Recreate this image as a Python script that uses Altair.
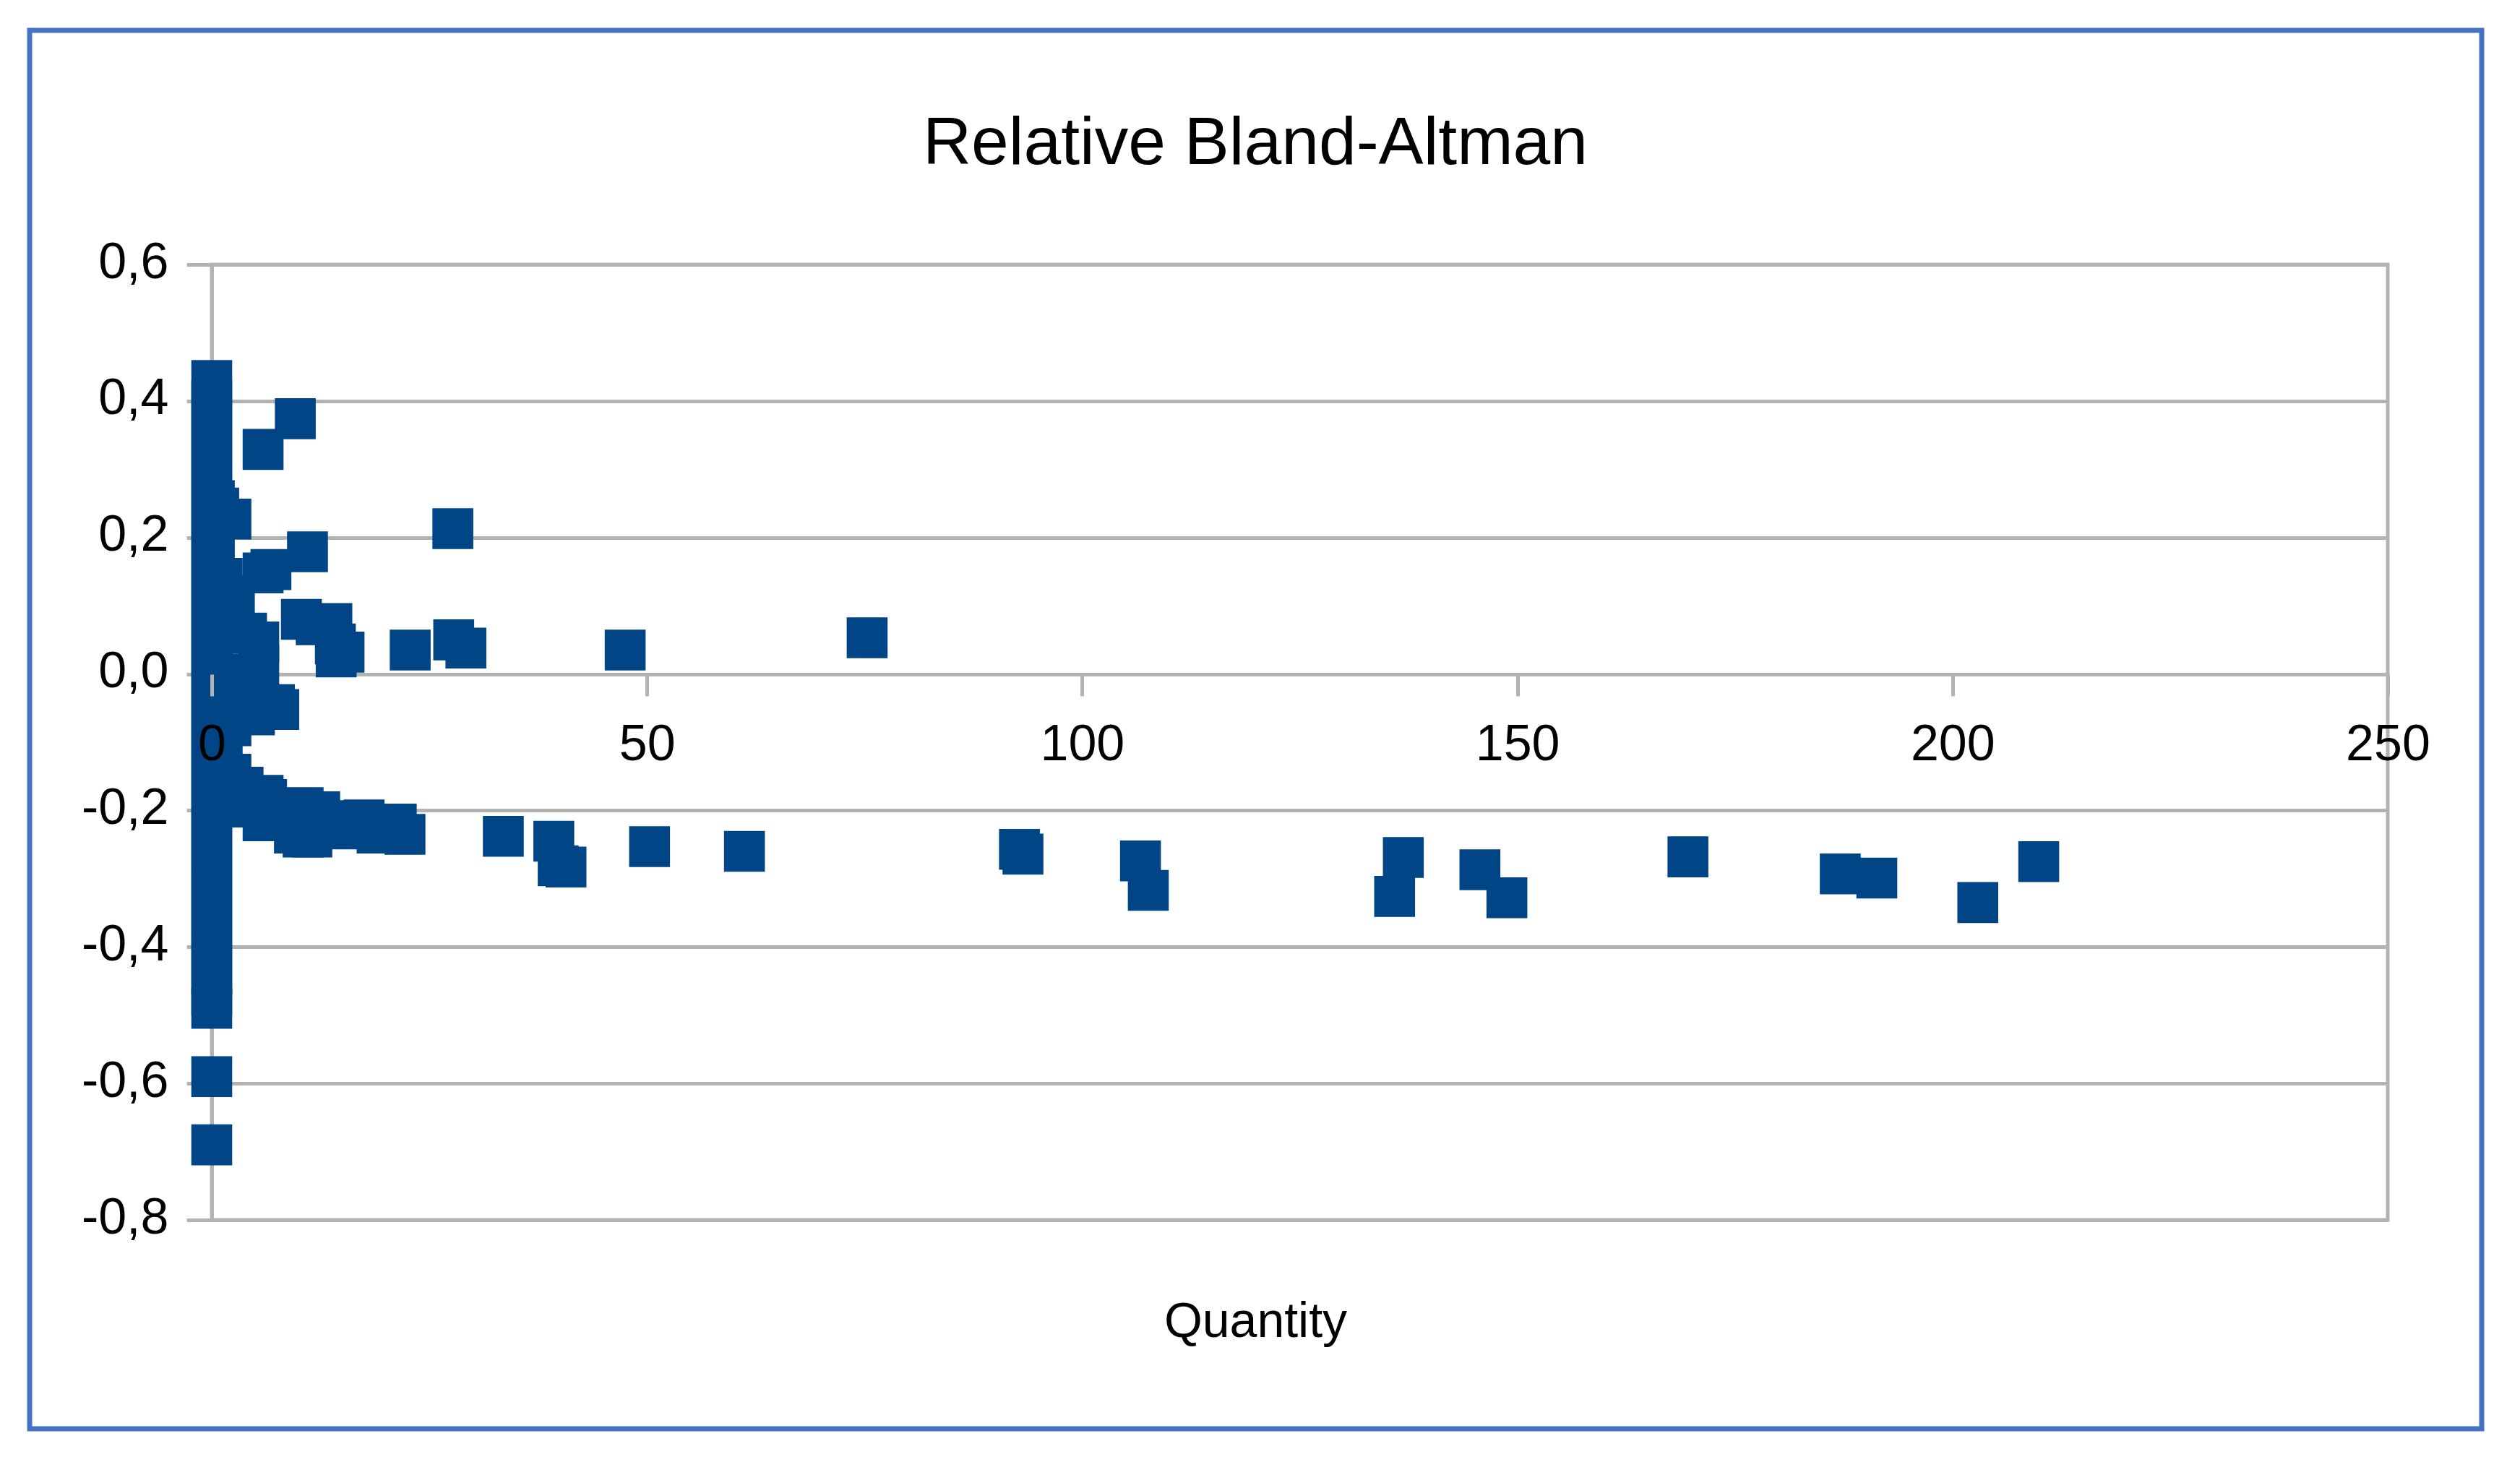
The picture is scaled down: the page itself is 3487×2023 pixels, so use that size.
import altair as alt
import pandas as pd

TITLE = "Relative Bland-Altman"
X_TITLE = "Quantity"

x_ticks = [0, 50, 100, 150, 200, 250]
y_ticks = [-0.8, -0.6, -0.4, -0.2, 0.0, 0.2, 0.4, 0.6]

# column of points at (almost) zero quantity
col_q = [0] * 34
col_d = [0.43, 0.40, 0.37, 0.34, 0.31, 0.28, 0.25, 0.22, 0.19, 0.16, 0.13, 0.10,
         0.07, 0.04, 0.01, -0.02, -0.05, -0.08, -0.11, -0.14, -0.17, -0.20, -0.23,
         -0.26, -0.29, -0.32, -0.35, -0.38, -0.41, -0.44, -0.47, -0.49, -0.59, -0.69]

# upper scattered points
up_q = [0.3, 0.8, 2.2, 0.3, 1.2, 2.6, 5.9, 9.6, 11.0, 6.8, 5.9, 27.7,
        4.0, 5.4, 5.4, 3.0, 10.3, 12.0, 13.8, 14.2, 14.3, 15.2, 22.8, 27.8, 29.2, 47.5, 75.3]
up_d = [0.254, 0.243, 0.227, 0.19, 0.14, 0.115, 0.329, 0.374, 0.179, 0.153, 0.148, 0.213,
        0.06, 0.047, 0.013, 0.0, 0.08, 0.072, 0.074, 0.044, 0.025, 0.032, 0.035, 0.05, 0.038, 0.035, 0.053]

# points slightly below zero and the lower band
lo_q = [7.2, 7.7, 4.9, 4.0, 2.2, 1.2,
        2.2, 3.6, 5.9, 6.3, 10.5, 12.4, 17.5, 21.2, 22.2, 2.5, 5.9, 8.0, 9.5, 10.5, 11.5,
        13.5, 14.7, 16.1, 19.0, 33.5, 39.3, 39.8, 40.7, 50.3, 61.2, 92.8, 93.2, 106.7,
        107.6, 135.9, 136.9, 145.7, 148.8, 169.6, 187.1, 191.3, 202.9, 209.9]
lo_d = [-0.045, -0.052, -0.06, -0.02, -0.076, -0.11,
        -0.147, -0.166, -0.178, -0.184, -0.196, -0.202, -0.214, -0.22, -0.235, -0.195, -0.215,
        -0.21, -0.233, -0.239, -0.239, -0.215, -0.227, -0.221, -0.233, -0.238, -0.245, -0.281,
        -0.283, -0.253, -0.26, -0.257, -0.264, -0.274, -0.317, -0.326, -0.269, -0.287, -0.328,
        -0.268, -0.293, -0.299, -0.335, -0.275]

df = pd.DataFrame({"Quantity": col_q + up_q + lo_q, "RelDiff": col_d + up_d + lo_d})

W, H = 3011, 1322
GRID = "#b3b3b3"
FONT = "Liberation Sans"
zero_offset = -round(H * 0.8 / 1.4)

points = alt.Chart(df).mark_square(size=3200, color="#004586", opacity=1, filled=True).encode(
    x=alt.X("Quantity:Q",
            scale=alt.Scale(domain=[0, 250], nice=False, zero=False),
            axis=alt.Axis(values=x_ticks, format="d", offset=zero_offset, zindex=1,
                          domain=False, grid=False, ticks=True, tickSize=30, tickWidth=5,
                          tickColor=GRID, labelFont=FONT, labelFontSize=70, labelColor="#000000",
                          labelBaseline="alphabetic", labelPadding=88, labelFlush=False,
                          labelOverlap=False, title=X_TITLE, titleFont=FONT, titleFontSize=68,
                          titleFontWeight="normal", titleColor="#000000", titleX=1444, titleY=916,
                          titleAlign="center", titleBaseline="alphabetic")),
    y=alt.Y("RelDiff:Q",
            scale=alt.Scale(domain=[-0.8, 0.6], nice=False, zero=False),
            axis=alt.Axis(values=y_ticks, title="", zindex=0, domain=True, domainColor=GRID,
                          domainWidth=5, grid=True, gridColor=GRID, gridWidth=5, ticks=True,
                          tickSize=35, tickWidth=5, tickColor=GRID, labelFont=FONT,
                          labelFontSize=70, labelColor="#000000", labelBaseline="alphabetic",
                          labelOffset=18, labelPadding=25, labelFlush=False, labelOverlap=False,
                          labelExpr="(datum.value < 0 ? '-' : '') + replace(format(abs(datum.value), '.1f'), '.', ',')")),
)

title = alt.Chart(pd.DataFrame({"t": [TITLE]})).mark_text(
    font=FONT, fontSize=93, align="center", baseline="alphabetic", color="#000000"
).encode(text="t:N", x=alt.value(1444), y=alt.value(-139))

frame = alt.Chart(pd.DataFrame({"k": [0]})).mark_rect(
    fillOpacity=0, stroke="#4472C4", strokeWidth=7
).encode(x=alt.value(-252), x2=alt.value(3141), y=alt.value(-324), y2=alt.value(1611))

chart = alt.layer(frame, points, title).properties(
    width=W, height=H,
    autosize=alt.AutoSizeParams(type="none"),
    padding={"left": 285, "top": 358, "right": 170, "bottom": 320},
    background="white",
).configure_view(stroke=GRID, strokeWidth=5)

chart.save("out.html", embed_options={"renderer": "svg", "actions": False})
